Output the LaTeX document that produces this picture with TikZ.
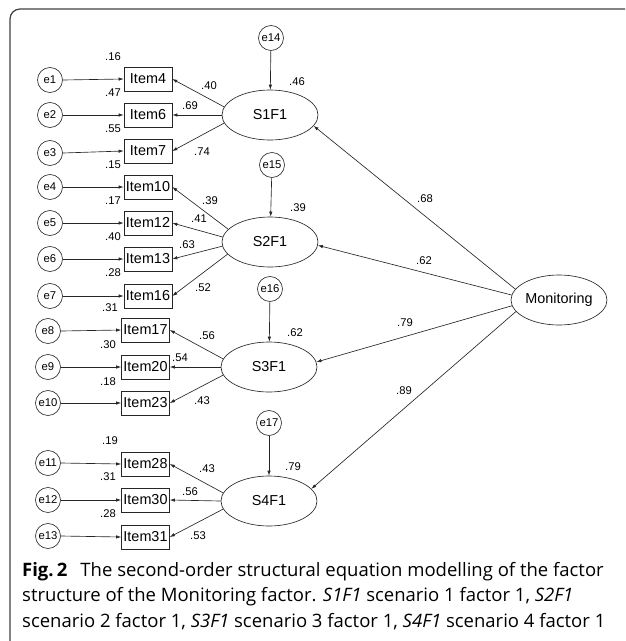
\documentclass[tikz,border=0pt]{standalone}
\usepackage{fontspec}
\setmainfont{Liberation Sans}
\newfontfamily\capfont{Open Sans}
\usetikzlibrary{shapes.geometric,arrows.meta}
\begin{document}
\begin{tikzpicture}[x=1pt,y=-1pt,
  line/.style={draw=black!85,line width=0.65pt},
  arr/.style={line,-{Latex[length=5pt,width=3.4pt]}},
  err/.style={circle,line,minimum size=25pt,inner sep=0pt,font=\fontsize{11.3}{12}\selectfont},
  item/.style={rectangle,line,minimum width=48pt,minimum height=24pt,inner sep=0pt,font=\fontsize{14.4}{16}\selectfont},
  lat/.style={ellipse,line,minimum width=96pt,minimum height=50pt,inner sep=0pt,font=\fontsize{14.4}{16}\selectfont},
  lbl/.style={inner sep=0pt,font=\fontsize{11.2}{12}\selectfont},
  capl/.style={inner sep=0pt,anchor=base west,font=\capfont\fontsize{18.5}{22}\selectfont}
]
\useasboundingbox (0,0) rectangle (625,641);
\begin{scope}
\clip (0,0) rectangle (625,641);
\draw[draw=black!75,line width=1.2pt,rounded corners=10pt] (10,9) rectangle (645,652);
\end{scope}

% error terms
\node[err] (e1) at (50,80) {e1};
\node[err] (e2) at (50,115) {e2};
\node[err] (e3) at (50,153) {e3};
\node[err] (e4) at (50,187) {e4};
\node[err] (e5) at (50,223) {e5};
\node[err] (e6) at (50,259) {e6};
\node[err] (e7) at (50,296) {e7};
\node[err] (e8) at (48,331) {e8};
\node[err] (e9) at (48,367) {e9};
\node[err] (e10) at (48,403) {e10};
\node[err] (e11) at (48,463) {e11};
\node[err] (e12) at (48,500) {e12};
\node[err] (e13) at (48,536) {e13};
\node[err] (e14) at (271,38) {e14};
\node[err] (e15) at (272,165) {e15};
\node[err] (e16) at (270,289) {e16};
\node[err] (e17) at (269,423) {e17};

% items
\node[item] (i4) at (148,79) {Item4};
\node[item] (i6) at (148,115) {Item6};
\node[item] (i7) at (148,151) {Item7};
\node[item] (i10) at (148,187) {Item10};
\node[item] (i12) at (148,223) {Item12};
\node[item] (i13) at (148,259) {Item13};
\node[item] (i16) at (148,296) {Item16};
\node[item] (i17) at (145.5,330) {Item17};
\node[item] (i20) at (145.5,367) {Item20};
\node[item] (i23) at (145.5,403) {Item23};
\node[item] (i28) at (145.5,464) {Item28};
\node[item] (i30) at (145.5,500) {Item30};
\node[item] (i31) at (145.5,537) {Item31};

% latent factors
\node[lat] (s1) at (270,115) {S1F1};
\node[lat] (s2) at (270,242) {S2F1};
\node[lat] (s3) at (269,367) {S3F1};
\node[lat] (s4) at (269,501) {S4F1};
\node[lat] (mon) at (559,300) {Monitoring};

% error arrows
\foreach \e/\i in {e1/i4,e2/i6,e3/i7,e4/i10,e5/i12,e6/i13,e7/i16,e8/i17,e9/i20,e10/i23,e11/i28,e12/i30,e13/i31}
  \draw[arr] (\e.east) -- (\i.west);
\draw[arr] (e14) -- (s1);
\draw[arr] (e15) -- (s2);
\draw[arr] (e16) -- (s3);
\draw[arr] (e17) -- (s4);

% loadings
\draw[arr] (s1.170) -- (i4.east);
\draw[arr] (s1.180) -- (i6.east);
\draw[arr] (s1.190) -- (i7.east);
\draw[arr] (s2.163) -- (i10.east);
\draw[arr] (s2.174) -- (i12.east);
\draw[arr] (s2.185) -- (i13.east);
\draw[arr] (s2.196) -- (i16.east);
\draw[arr] (s3.170) -- (i17.east);
\draw[arr] (s3.180) -- (i20.east);
\draw[arr] (s3.190) -- (i23.east);
\draw[arr] (s4.170) -- (i28.east);
\draw[arr] (s4.180) -- (i30.east);
\draw[arr] (s4.190) -- (i31.east);

\draw[arr] (mon.166) -- (s1.-14);
\draw[arr] (mon.174) -- (s2.-4);
\draw[arr] (mon.187) -- (s3.6);
\draw[arr] (mon.195) -- (s4.16);

% labels: item R2
\node[lbl] (r4) at (113,57) {.16};
\node[lbl] (r6) at (113,93) {.47};
\node[lbl] (r7) at (113,129) {.55};
\node[lbl] (r10) at (113,165) {.15};
\node[lbl] (r12) at (113,201) {.17};
\node[lbl] (r13) at (113,237) {.40};
\node[lbl] (r16) at (113,273) {.28};
\node[lbl] (r17) at (110,308) {.31};
\node[lbl] (r20) at (108,345) {.30};
\node[lbl] (r23) at (108,382) {.18};
\node[lbl] (r28) at (110,441) {.19};
\node[lbl] (r30) at (108,477) {.31};
\node[lbl] (r31) at (108,514) {.28};
% loadings labels
\node[lbl] (l4) at (209,86) {.40};
\node[lbl] (l6) at (190,106) {.69};
\node[lbl] (l7) at (202,152) {.74};
\node[lbl] (l10) at (210,201) {.39};
\node[lbl] (l12) at (199,219) {.41};
\node[lbl] (l13) at (187,245) {.63};
\node[lbl] (l16) at (203,288) {.52};
\node[lbl] (l17) at (207,336) {.56};
\node[lbl] (l20) at (180,358) {.54};
\node[lbl] (l23) at (202,401) {.43};
\node[lbl] (l28) at (207,469) {.43};
\node[lbl] (l30) at (190,492) {.56};
\node[lbl] (l31) at (198,536) {.53};
% factor R2
\node[lbl] (q1) at (297,82) {.46};
\node[lbl] (q2) at (298,208) {.39};
\node[lbl] (q3) at (295,333) {.62};
\node[lbl] (q4) at (293,467) {.79};
% second-order loadings
\node[lbl] (m1) at (425,199) {.68};
\node[lbl] (m2) at (424,261) {.62};
\node[lbl] (m3) at (405,323) {.79};
\node[lbl] (m4) at (404,391) {.89};

% caption
\node[capl] (c1) at (22,576) {\textbf{Fig.\,2}\hspace{0.45em} The second-order structural equation modelling of the factor};
\node[capl] (c2) at (22,601) {structure of the Monitoring factor. \textit{S1F1} scenario 1 factor 1, \textit{S2F1}};
\node[capl] (c3) at (22,627) {scenario 2 factor 1, \textit{S3F1} scenario 3 factor 1, \textit{S4F1} scenario 4 factor 1};
\end{tikzpicture}
\end{document}
